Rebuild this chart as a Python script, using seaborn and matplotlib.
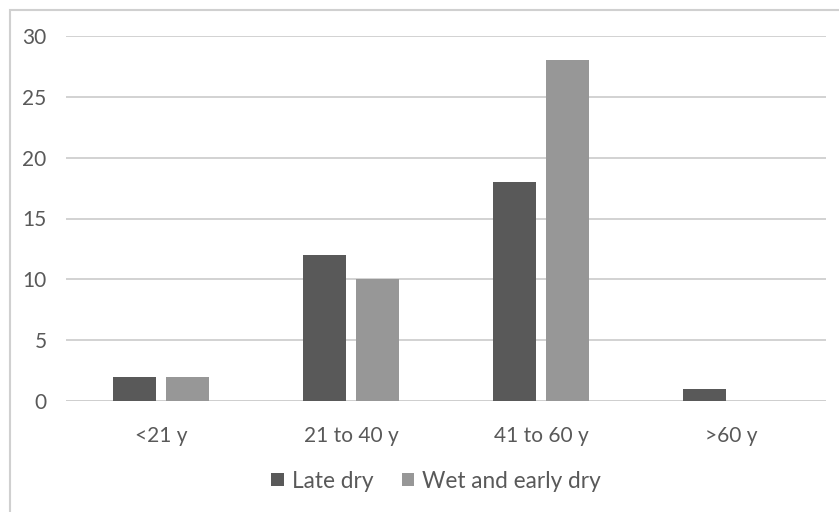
import matplotlib
matplotlib.use("Agg")
import matplotlib.pyplot as plt
from matplotlib.patches import Rectangle
import seaborn as sns
import pandas as pd

# Data
age_groups = ["<21 y", "21 to 40 y", "41 to 60 y", ">60 y"]
late_dry = [2, 12, 18, 1]
wet_early_dry = [2, 10, 28, 0]
series_names = ["Late dry", "Wet and early dry"]
y_ticks = [0, 5, 10, 15, 20, 25, 30]

df = pd.DataFrame({
    "age": age_groups * 2,
    "count": late_dry + wet_early_dry,
    "season": [series_names[0]] * len(age_groups) + [series_names[1]] * len(age_groups),
})

sns.set_theme(style="white")
plt.rcParams["font.family"] = ["Lato", "DejaVu Sans"]
text_color = "#595959"
grid_color = "#cfcfcf"

W, H = 839, 512
fig = plt.figure(figsize=(W / 100, H / 100), dpi=100)
ax = fig.add_axes([66 / W, 1 - 401 / H, (826 - 66) / W, (401 - 36) / H])

sns.barplot(
    data=df, x="age", y="count", hue="season", order=age_groups,
    hue_order=series_names, palette=["#595959", "#979797"],
    width=0.56, gap=0.19, saturation=1, linewidth=0, ax=ax, legend=True,
)

ax.set_ylim(0, 30)
ax.set_xlim(-0.5, len(age_groups) - 0.5)
ax.set_yticks(y_ticks)
ax.yaxis.grid(True, color=grid_color, linewidth=1.3)
ax.set_axisbelow(True)
for s in ax.spines.values():
    s.set_visible(False)
ax.axhline(0, color=grid_color, linewidth=1.3, zorder=0.5)
ax.set_xlabel("")
ax.set_ylabel("")
ax.tick_params(axis="y", length=0, pad=14, labelsize=15, labelcolor=text_color)
ax.tick_params(axis="x", length=0, pad=18, labelsize=15, labelcolor=text_color)

handles, labels = ax.get_legend_handles_labels()
ax.legend_.remove()
fig.legend(
    handles, labels, loc="center", bbox_to_anchor=(436 / W, 1 - 481 / H),
    ncol=2, frameon=False, fontsize=16.3, labelcolor=text_color,
    handlelength=0.55, handleheight=0.55, handletextpad=0.35, columnspacing=1.25,
)

# chart frame
fig.patches.append(Rectangle((10 / W, -0.1), 1.2, 1 - 10 / H + 0.1,
                             transform=fig.transFigure, fill=False,
                             edgecolor="#d0d0d0", linewidth=1.5))

fig.savefig("out.png", dpi=100, facecolor="white")
